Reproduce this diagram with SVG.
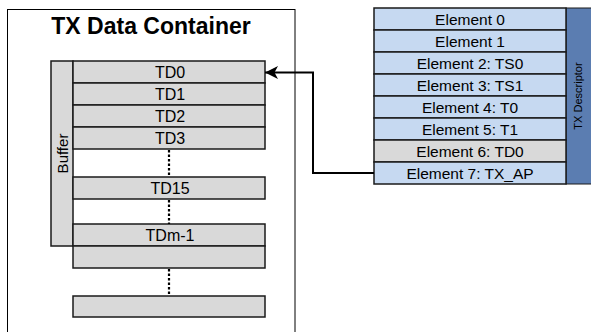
<svg xmlns="http://www.w3.org/2000/svg" width="591" height="332" viewBox="0 0 591 332">
<style>
.box{fill:#D9D9D9;stroke:#1a1a1a;stroke-width:1.5}
.el{fill:#C6D9F1;stroke:#1a1a1a;stroke-width:1.5}
.t{font-family:"Liberation Sans",Arial,sans-serif;font-size:15.5px;fill:#000;text-anchor:middle}
.td{font-size:16px}
.dot{stroke:#000;stroke-width:2.2;stroke-dasharray:2.5,2;fill:none}
</style>
<defs>
<marker id="arr" markerWidth="14" markerHeight="13" refX="13" refY="6.5" orient="auto" markerUnits="userSpaceOnUse">
<path d="M0,0 L13,6.5 L0,13 L3.5,6.5 Z" fill="#000"/>
</marker>
</defs>
<rect width="591" height="332" fill="#fff"/>
<g id="container">
<rect x="7.5" y="9.5" width="287.5" height="340" fill="#fff" stroke="#000" stroke-width="1"/>
<text x="151" y="34" font-family="Liberation Sans,Arial,sans-serif" font-size="23" font-weight="bold" text-anchor="middle">TX Data Container</text>
</g>
<g id="buffer">
<rect class="box" x="51" y="61" width="22" height="185"/>
<text class="t" style="font-size:15px" transform="translate(67.5,153.5) rotate(-90)">Buffer</text>
</g>
<g id="td0"><rect class="box" x="73" y="61" width="192" height="22"/><text class="t td" x="170" y="77.5">TD0</text></g>
<g id="td1"><rect class="box" x="73" y="83" width="192" height="22"/><text class="t td" x="170" y="99.5">TD1</text></g>
<g id="td2"><rect class="box" x="73" y="105" width="192" height="22"/><text class="t td" x="170" y="121.5">TD2</text></g>
<g id="td3"><rect class="box" x="73" y="127" width="192" height="22"/><text class="t td" x="170" y="143.5">TD3</text></g>
<g id="td15"><rect class="box" x="73" y="177" width="192" height="22"/><text class="t td" x="170" y="193.5">TD15</text></g>
<g id="tdm1"><rect class="box" x="73" y="224" width="192" height="22"/><text class="t td" x="170" y="240.5">TDm-1</text></g>
<g id="tdm"><rect class="box" x="73" y="246" width="192" height="22"/></g>
<g id="tdlast"><rect class="box" x="73" y="296" width="192" height="21"/></g>
<g id="descriptor">
<rect x="566" y="8" width="26" height="176" fill="#5B7DB1" stroke="#1a1a1a" stroke-width="1"/>
<text x="582" y="96" font-family="Liberation Sans,Arial,sans-serif" font-size="11" text-anchor="middle" fill="#000" transform="rotate(-90 582 96)">TX Descriptor</text>
</g>
<g id="element0"><rect class="el" x="374" y="8" width="192" height="22"/><text class="t" x="470" y="24.5">Element 0</text></g>
<g id="element1"><rect class="el" x="374" y="30" width="192" height="22"/><text class="t" x="470" y="46.5">Element 1</text></g>
<g id="element2"><rect class="el" x="374" y="52" width="192" height="22"/><text class="t" x="470" y="68.5">Element 2: TS0</text></g>
<g id="element3"><rect class="el" x="374" y="74" width="192" height="22"/><text class="t" x="470" y="90.5">Element 3: TS1</text></g>
<g id="element4"><rect class="el" x="374" y="96" width="192" height="22"/><text class="t" x="470" y="112.5">Element 4: T0</text></g>
<g id="element5"><rect class="el" x="374" y="118" width="192" height="22"/><text class="t" x="470" y="134.5">Element 5: T1</text></g>
<g id="element6"><rect class="box" x="374" y="140" width="192" height="22"/><text class="t" x="470" y="156.5">Element 6: TD0</text></g>
<g id="element7"><rect class="el" x="374" y="162" width="192" height="22"/><text class="t" x="470" y="178.5">Element 7: TX_AP</text></g>
<g id="connectors">
<path class="dot" d="M169,150 V177"/>
<path class="dot" d="M169,200 V224"/>
<path class="dot" d="M169,269 V296"/>
<path d="M374,173 H313 V72.5 H265" fill="none" stroke="#000" stroke-width="2" marker-end="url(#arr)"/>
</g>
</svg>
